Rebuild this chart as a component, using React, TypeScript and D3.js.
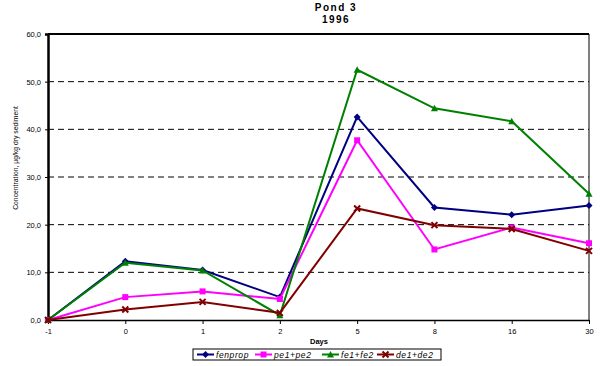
import React, { useEffect, useRef } from "react";
import * as d3 from "d3";

const days = ["-1", "0", "1", "2", "5", "8", "16", "30"];
const fenprop = [0, 12.3, 10.5, 4.8, 42.6, 23.6, 22.1, 24.0];
const pe = [0, 4.8, 6.0, 4.4, 37.7, 14.8, 19.4, 16.1];
const fe = [0, 12.0, 10.4, 1.0, 52.5, 44.4, 41.7, 26.5];
const de = [0, 2.2, 3.8, 1.5, 23.4, 19.9, 19.1, 14.5];
const yTicks = [0, 10, 20, 30, 40, 50, 60];

const series = [
  { name: "fenprop", values: fenprop, color: "#000080", marker: "diamond" },
  { name: "pe1+pe2", values: pe, color: "#FF00FF", marker: "square" },
  { name: "fe1+fe2", values: fe, color: "#008000", marker: "triangle" },
  { name: "de1+de2", values: de, color: "#800000", marker: "x" },
];

const drawMarker = (g, type, x, y, color) => {
  if (type === "diamond") {
    g.append("path")
      .attr("d", `M${x},${y - 3.5}L${x + 3.5},${y}L${x},${y + 3.5}L${x - 3.5},${y}Z`)
      .attr("fill", color);
  } else if (type === "square") {
    g.append("rect")
      .attr("x", x - 3).attr("y", y - 3).attr("width", 6).attr("height", 6)
      .attr("fill", color);
  } else if (type === "triangle") {
    g.append("path")
      .attr("d", `M${x},${y - 3.5}L${x + 3.5},${y + 3}L${x - 3.5},${y + 3}Z`)
      .attr("fill", color);
  } else {
    g.append("path")
      .attr("d", `M${x - 3},${y - 3}L${x + 3},${y + 3}M${x + 3},${y - 3}L${x - 3},${y + 3}`)
      .attr("stroke", color).attr("stroke-width", 2);
  }
};

const App = () => {
  const ref = useRef(null);

  useEffect(() => {
    const svg = d3.select(ref.current);
    svg.selectAll("*").remove();
    const font = "'Liberation Sans', Arial, sans-serif";

    const x = d3.scalePoint().domain(days).range([48, 589]);
    const y = d3.scaleLinear().domain([0, 60]).range([320, 34]);

    // title
    svg.append("text").attr("x", 336).attr("y", 11).attr("text-anchor", "middle")
      .attr("font-family", font).attr("font-size", 10).attr("font-weight", "bold")
      .attr("letter-spacing", 1.5).text("Pond 3");
    svg.append("text").attr("x", 336).attr("y", 23).attr("text-anchor", "middle")
      .attr("font-family", font).attr("font-size", 10).attr("font-weight", "bold")
      .attr("letter-spacing", 1.5).text("1996");

    // gridlines
    svg.append("g").selectAll("line")
      .data(yTicks.filter((d) => d > 0 && d < 60))
      .enter().append("line")
      .attr("x1", 48).attr("x2", 589)
      .attr("y1", (d) => y(d)).attr("y2", (d) => y(d))
      .attr("stroke", "#000").attr("stroke-width", 1)
      .attr("stroke-dasharray", "6,4");

    // frame
    svg.append("line").attr("x1", 48).attr("x2", 589).attr("y1", 34).attr("y2", 34)
      .attr("stroke", "#000").attr("stroke-width", 2);
    svg.append("line").attr("x1", 589).attr("x2", 589).attr("y1", 34).attr("y2", 320)
      .attr("stroke", "#000").attr("stroke-width", 1);

    // y axis
    const yAxis = svg.append("g").attr("transform", "translate(48,0)")
      .call(d3.axisLeft(y).tickValues(yTicks).tickSize(3)
        .tickFormat((d) => d3.format(".1f")(d).replace(".", ",")));
    yAxis.select(".domain").attr("stroke-width", 2.5);
    yAxis.selectAll("text").attr("font-family", font).attr("font-size", 7.5).attr("dx", -1);

    // x axis
    const xAxis = svg.append("g").attr("transform", "translate(0,320)")
      .call(d3.axisBottom(x).tickSize(4).tickSizeOuter(0));
    xAxis.select(".domain").attr("stroke-width", 1.5);
    xAxis.selectAll("text").attr("font-family", font).attr("font-size", 7.5).attr("dy", "0.9em");

    // axis titles
    svg.append("text").attr("x", 319).attr("y", 344).attr("text-anchor", "middle")
      .attr("font-family", font).attr("font-size", 7.5).attr("font-weight", "bold")
      .text("Days");
    svg.append("text")
      .attr("transform", "translate(18,158) rotate(-90)")
      .attr("text-anchor", "middle")
      .attr("font-family", font).attr("font-size", 6.8)
      .text("Concentration, µg/kg dry sediment");

    // series
    const line = d3.line().x((d, i) => x(days[i])).y((d) => y(d));
    series.forEach((s) => {
      const g = svg.append("g");
      g.append("path").datum(s.values).attr("d", line)
        .attr("fill", "none").attr("stroke", s.color).attr("stroke-width", 2);
      s.values.forEach((v, i) => drawMarker(g, s.marker, x(days[i]), y(v), s.color));
    });

    // legend
    const lg = svg.append("g");
    lg.append("rect").attr("x", 193).attr("y", 349).attr("width", 248).attr("height", 11)
      .attr("fill", "#fff").attr("stroke", "#000").attr("stroke-width", 1);
    const legendX = [197, 255, 322, 377];
    series.forEach((s, i) => {
      const lx = legendX[i];
      lg.append("line").attr("x1", lx).attr("x2", lx + 17).attr("y1", 354.5).attr("y2", 354.5)
        .attr("stroke", s.color).attr("stroke-width", 2);
      drawMarker(lg, s.marker, lx + 8.5, 354.5, s.color);
      lg.append("text").attr("x", lx + 19).attr("y", 357.5)
        .attr("font-family", font).attr("font-size", 8.5).attr("font-style", "italic")
        .attr("letter-spacing", 0.6).text(s.name);
    });
  }, []);

  return <svg ref={ref} width={605} height={366} style={{ display: "block", position: "absolute", left: 0, top: 0 }} />;
};

export default App;
